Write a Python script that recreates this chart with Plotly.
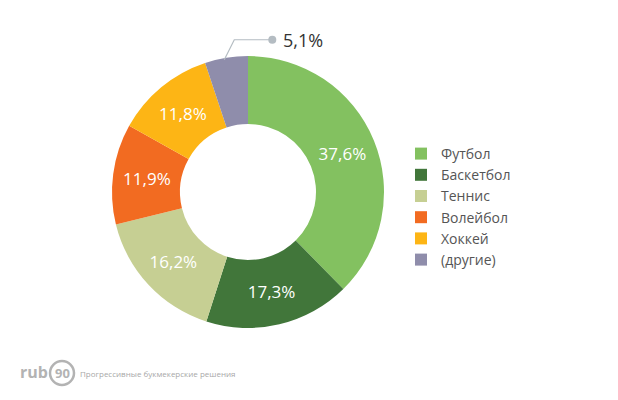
import math
import plotly.graph_objects as go

labels = ["Футбол", "Баскетбол", "Теннис", "Волейбол", "Хоккей", "(другие)"]
values = [37.6, 17.3, 16.2, 11.9, 11.8, 5.1]
colors = ["#83c160", "#41763a", "#c6cf93", "#f26b21", "#fdb515", "#8f8dab"]
text_labels = ["37,6%", "17,3%", "16,2%", "11,9%", "11,8%", ""]
outside_label = "5,1%"

OFF = 8  # page body margin offset
W, H = 618 - OFF, 400 - OFF
cx, cy, R = 248 - OFF, 192 - OFF, 136  # pixel center and radius


def P(x, y):
    return x / W, 1 - y / H


fig = go.Figure()
fig.add_trace(go.Pie(
    labels=labels, values=values, text=text_labels,
    textinfo="text", textposition="inside", insidetextorientation="horizontal",
    marker=dict(colors=colors, line=dict(width=0)),
    hole=0.5, sort=False, direction="clockwise", rotation=0,
    domain=dict(x=[(cx - R) / W, (cx + R) / W], y=[(H - cy - R) / H, (H - cy + R) / H]),
    insidetextfont=dict(color="white", size=17, family="Open Sans"),
    hoverinfo="skip",
))

# leader line for the small slice
total = sum(values)
start = sum(values[:-1]) / total
mid = (start + values[-1] / total / 2) * 2 * math.pi
px0 = cx + R * math.sin(mid) - 2
py0 = cy - R * math.cos(mid) + 2
px1, py1 = px0 + 10, py0 - 20
px2 = px1 + 38

x0, y0 = P(px0, py0)
x1, y1 = P(px1, py1)
x2, y2 = P(px2, py1)
fig.add_shape(type="path", xref="paper", yref="paper",
              path=f"M {x0} {y0} L {x1} {y1} L {x2} {y2}",
              line=dict(color="#b4bcc2", width=1.2))
fig.add_shape(type="circle", xref="paper", yref="paper",
              x0=(px2 - 4) / W, x1=(px2 + 4) / W, y0=1 - (py1 + 4) / H, y1=1 - (py1 - 4) / H,
              fillcolor="#b4bcc2", line=dict(width=0))
fig.add_annotation(x=(px2 + 9) / W, y=y2, xref="paper", yref="paper",
                   text=outside_label, showarrow=False, xanchor="left", yanchor="middle",
                   font=dict(size=18, color="#333333", family="Open Sans"))

# logo
ly = 373 - OFF
fig.add_annotation(x=(18 - OFF) / W, y=1 - (ly - 1) / H, xref="paper", yref="paper",
                   text="<b>rub</b>", showarrow=False, xanchor="left", yanchor="middle",
                   font=dict(size=16, color="#b3b3b3", family="Open Sans"))
fig.add_annotation(x=(62 - OFF) / W, y=1 - ly / H, xref="paper", yref="paper",
                   text="<b>90</b>", showarrow=False, xanchor="center", yanchor="middle",
                   font=dict(size=13, color="#b3b3b3", family="Open Sans"))
fig.add_shape(type="circle", xref="paper", yref="paper",
              x0=(50 - OFF) / W, x1=(74 - OFF) / W, y0=1 - (ly + 12) / H, y1=1 - (ly - 12) / H,
              line=dict(color="#b3b3b3", width=2.5))
fig.add_annotation(x=(78 - OFF) / W, y=1 - ly / H, xref="paper", yref="paper",
                   text="Прогрессивные букмекерские решения", showarrow=False,
                   xanchor="left", yanchor="middle",
                   font=dict(size=8, color="#a8a8a8", family="Liberation Sans Narrow, Open Sans"))

fig.update_layout(
    width=W, height=H, margin=dict(l=0, r=0, t=0, b=0),
    paper_bgcolor="white", plot_bgcolor="white",
    showlegend=True,
    legend=dict(x=(401 - OFF) / W, y=1 - (207 - OFF) / H, xanchor="left", yanchor="middle",
                font=dict(size=14, color="#555555", family="Open Sans"),
                tracegroupgap=0, itemwidth=30),
)

fig.write_html("out.html")
